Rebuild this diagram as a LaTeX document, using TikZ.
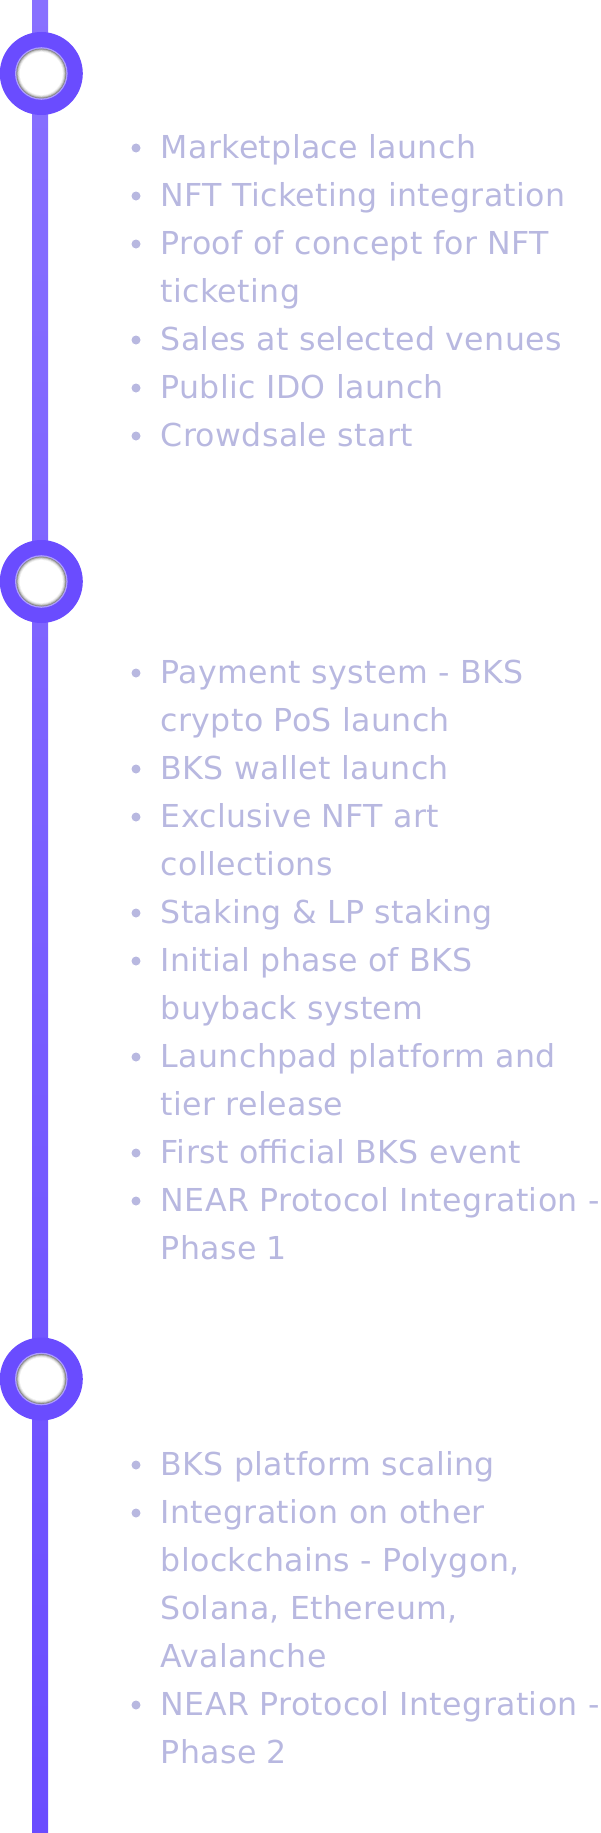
\documentclass[tikz,border=0pt]{standalone}
\usepackage{fontspec}
\setmainfont{DejaVu Sans}[LetterSpace=1.2]
\definecolor{txt}{RGB}{184,184,224}
\definecolor{ring}{RGB}{106,76,255}
\definecolor{linetop}{RGB}{136,112,255}
\definecolor{linebot}{RGB}{106,76,255}
\begin{document}
\begin{tikzpicture}[x=1pt,y=-1pt,
  item/.style={anchor=base west, inner sep=0pt, text=txt, font=\fontsize{31.6}{38}\selectfont},
  bul/.style={circle, fill=txt, inner sep=0pt, minimum size=9pt},
  ringnode/.style={circle, fill=ring, inner sep=0pt, minimum size=83pt}]
\useasboundingbox (0,0) rectangle (600,1833);
\shade[top color=linetop, bottom color=linebot] (32,0) rectangle (48,1833);
% milestones
\foreach \yy/\nn in {73.5/m1, 581.5/m2, 1379/m3}{
  \node[ringnode] (\nn) at (41.3,\yy) {};
  \fill[ring!55!white] (\nn.center) circle (26.3);
  \fill[gray!95] (\nn.center) circle (25);
  \fill[gray!60] (\nn.center) circle (24.2);
  \fill[gray!30] (\nn.center) circle (23.3);
  \fill[gray!12] (\nn.center) circle (22.4);
  \fill[white] (\nn.center) circle (21.5);
}
% items
\foreach \yy/\tx/\nn/\bb in {
  158/Marketplace launch/a1/1,
  206/NFT Ticketing integration/a2/1,
  254/Proof of concept for NFT/a3/1,
  302/ticketing/a4/0,
  350/Sales at selected venues/a5/1,
  398/Public IDO launch/a6/1,
  446/Crowdsale start/a7/1,
  683/Payment system - BKS/b1/1,
  731/crypto PoS launch/b2/0,
  779/BKS wallet launch/b3/1,
  827/Exclusive NFT art/b4/1,
  875/collections/b5/0,
  923/Staking \& LP staking/b6/1,
  971/Initial phase of BKS/b7/1,
  1019/buyback system/b8/0,
  1067/Launchpad platform and/b9/1,
  1115/tier release/b10/0,
  1163/First official BKS event/b11/1,
  1211/NEAR Protocol Integration -/b12/1,
  1259/Phase 1/b13/0,
  1475/BKS platform scaling/c1/1,
  1523/Integration on other/c2/1,
  1571/{blockchains - Polygon,}/c3/0,
  1619/{Solana, Ethereum,}/c4/0,
  1667/Avalanche/c5/0,
  1715/NEAR Protocol Integration -/c6/1,
  1763/Phase 2/c7/0}{
  \node[item] (\nn) at (160.5,\yy) {\tx};
  \ifnum\bb=1 \node[bul] (d\nn) at (136,\yy-10) {};\fi
}
\end{tikzpicture}
\end{document}
